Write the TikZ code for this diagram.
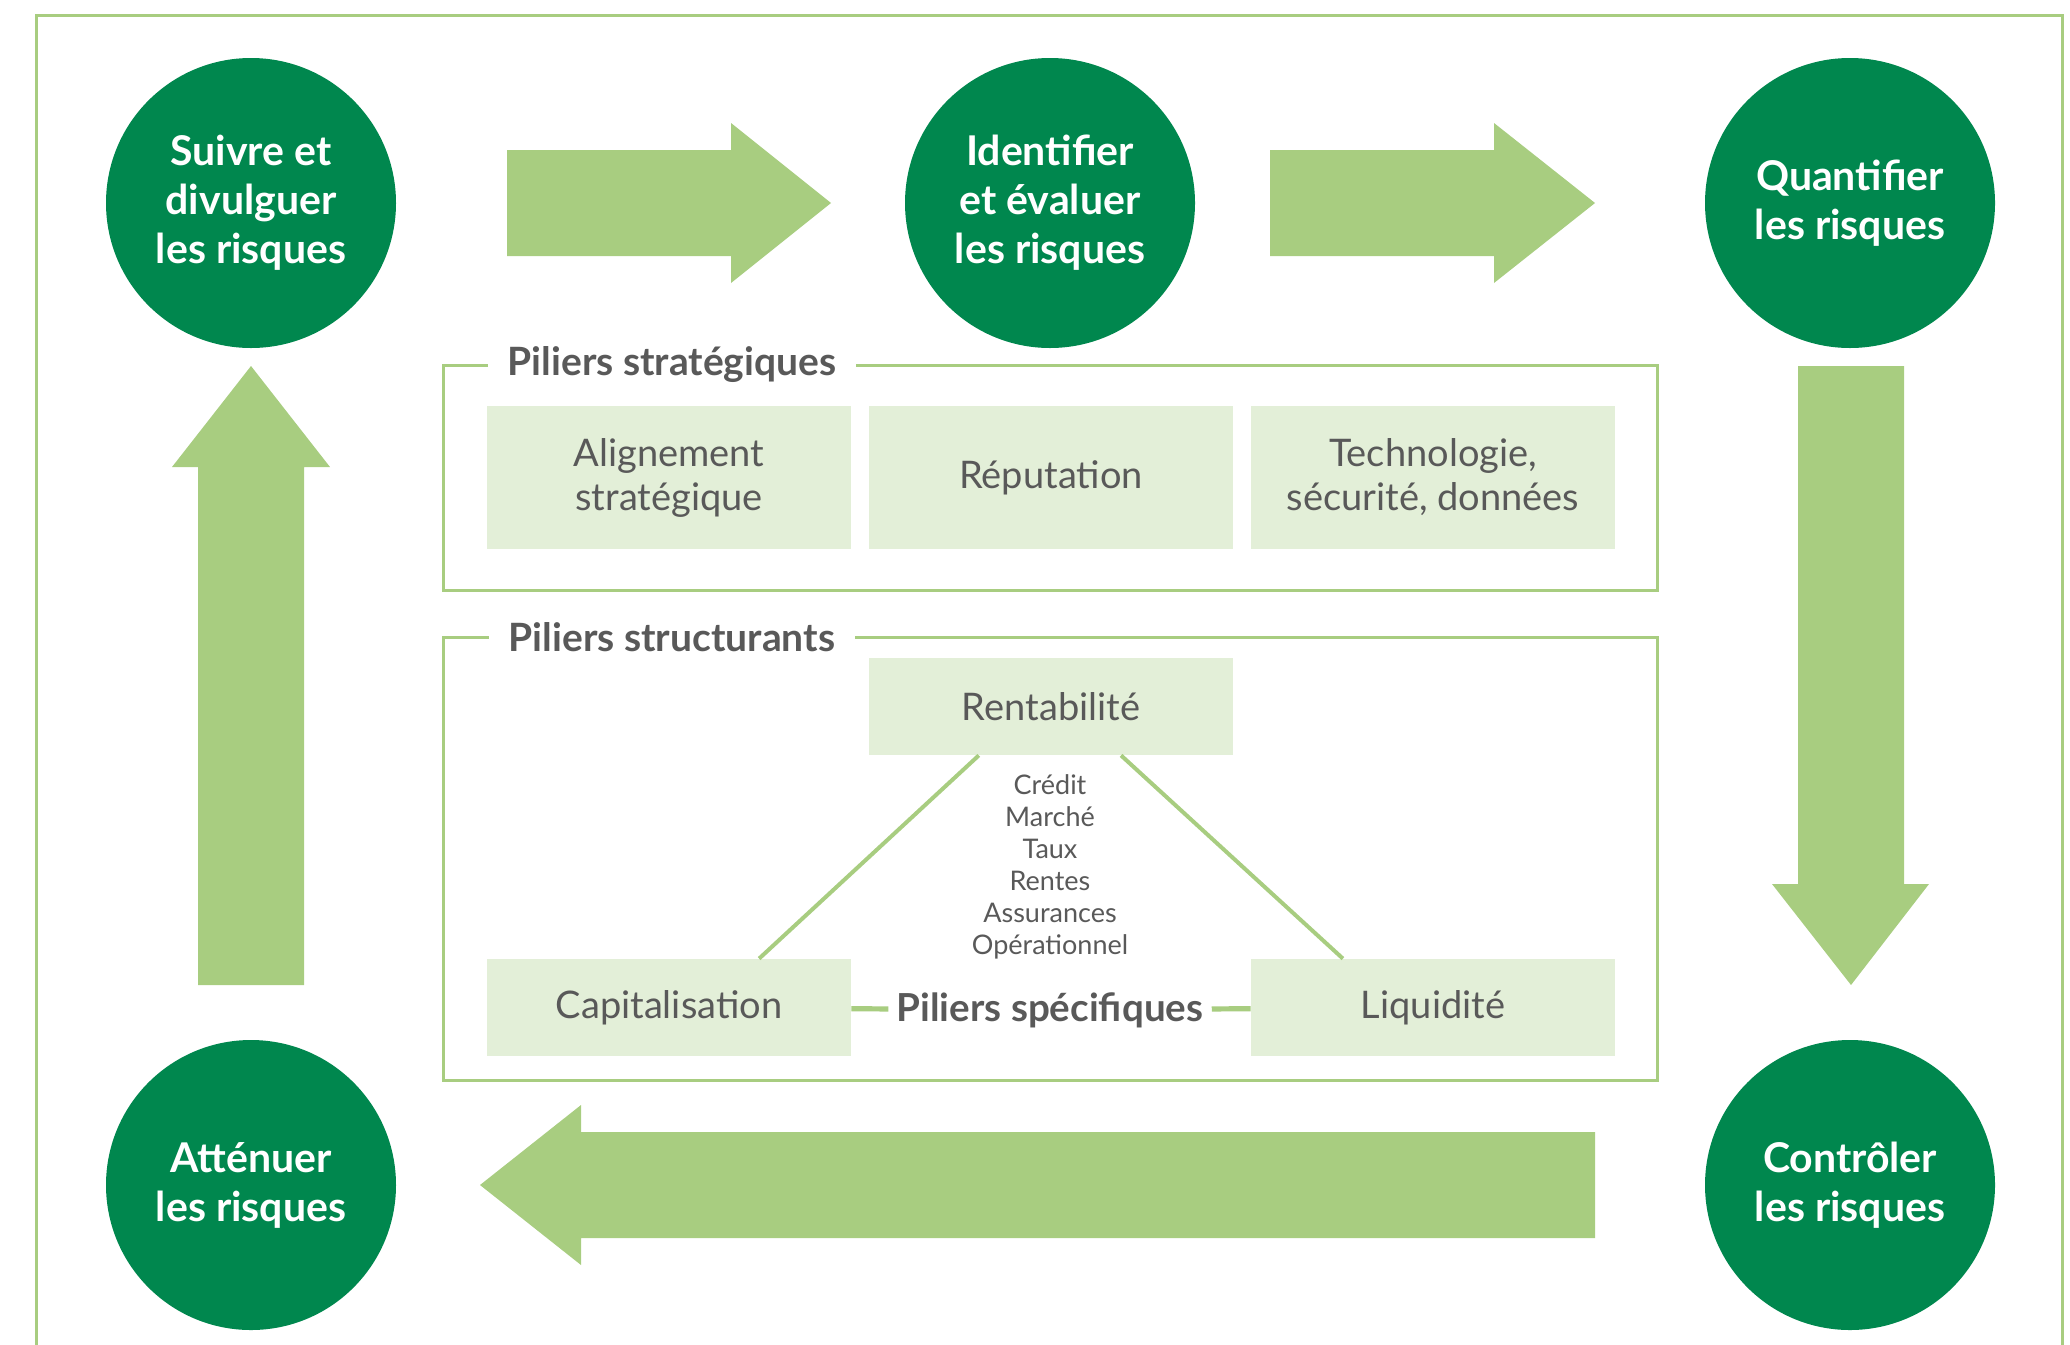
\documentclass[tikz,border=0pt]{standalone}
\usepackage{fontspec}
\setmainfont{Lato}
\usepackage{tikz}
\usetikzlibrary{positioning,calc}

\definecolor{darkgreen}{HTML}{00874E}
\definecolor{lightgreen}{HTML}{A8CD80}
\definecolor{palegreen}{HTML}{E3EFD8}
\definecolor{txtgray}{HTML}{595959}

\tikzset{
  stepcircle/.style={circle, fill=darkgreen, minimum size=145pt, inner sep=0pt,
    text=white, align=center, font=\bfseries\fontsize{20.5}{24.5}\selectfont},
  pillar/.style={fill=palegreen, minimum width=182pt, text=txtgray, align=center,
    font=\fontsize{19}{22}\selectfont},
  grouptitle/.style={fill=white, text=txtgray, inner xsep=10pt,
    font=\bfseries\fontsize{19.5}{22}\selectfont},
  frameline/.style={draw=lightgreen, line width=1.5pt},
  bigarrow/.style={fill=lightgreen},
  link/.style={draw=lightgreen, line width=2.6pt}
}

\begin{document}
\begin{tikzpicture}[x=0.5pt,y=-0.5pt]
    \useasboundingbox (0,0) rectangle (2070,1344);
    % outer frame, open at the bottom
    \draw[frameline] (36,1360) -- (36,15) -- (2062,15) -- (2062,1360);

    % risk cycle
    \node[stepcircle] (suivre) at (251,203) {Suivre et\\divulguer\\les risques};
    \node[stepcircle] (identifier) at (1050,203) {Identifier\\et évaluer\\les risques};
    \node[stepcircle] (quantifier) at (1850,203) {Quantifier\\les risques};
    \node[stepcircle] (controler) at (1850,1185) {Contrôler\\les risques};
    \node[stepcircle] (attenuer) at (251,1185) {Atténuer\\les risques};

    \fill[bigarrow] (507,150) -- (731,150) -- (731,123) -- (831,203) -- (731,283) -- (731,256) -- (507,256) -- cycle;
    \fill[bigarrow] (1270,150) -- (1494,150) -- (1494,123) -- (1595,203) -- (1494,283) -- (1494,256) -- (1270,256) -- cycle;
    \fill[bigarrow] (1798,366) -- (1904,366) -- (1904,884) -- (1929,884) -- (1851,985) -- (1772,884) -- (1798,884) -- cycle;
    \fill[bigarrow] (1595,1132) -- (581,1132) -- (581,1105) -- (480,1185) -- (581,1265) -- (581,1238) -- (1595,1238) -- cycle;
    \fill[bigarrow] (198,985) -- (198,467) -- (172,467) -- (251,366) -- (330,467) -- (304,467) -- (304,985) -- cycle;

    % strategic pillars
    \draw[frameline] (443,365) rectangle (1657,590);
    \node[grouptitle] (strat) at (672,365) {Piliers stratégiques};
    \node[pillar, minimum height=71.5pt] (alignement) at (669,477.5) {Alignement\\stratégique};
    \node[pillar, minimum height=71.5pt] (reputation) at (1051,477.5) {Réputation};
    \node[pillar, minimum height=71.5pt] (techno) at (1433,477.5) {Technologie,\\sécurité, données};

    % structural pillars
    \draw[frameline] (443,637) rectangle (1657,1080);
    \node[grouptitle] (struct) at (672,637) {Piliers structurants};
    \node[pillar, minimum height=48.5pt] (rent) at (1051,706.5) {Rentabilité};
    \node[pillar, minimum height=48.5pt] (cap) at (669,1007.5) {Capitalisation};
    \node[pillar, minimum height=48.5pt] (liq) at (1433,1007.5) {Liquidité};
    \node[text=txtgray, align=center, font=\fontsize{13.5}{16}\selectfont] (types) at (1050,867) {Crédit\\Marché\\Taux\\Rentes\\Assurances\\Opérationnel};
    \node[text=txtgray, inner xsep=4pt, font=\bfseries\fontsize{19.3}{22}\selectfont] (spec) at (1050,1010) {Piliers spécifiques};

    \draw[link, line width=2pt] ($(rent.south west)!0.302!(rent.south east)$) -- ($(cap.north west)!0.747!(cap.north east)$);
    \draw[link, line width=2pt] ($(rent.south west)!0.692!(rent.south east)$) -- ($(liq.north west)!0.253!(liq.north east)$);
    \draw[link] (cap) -- (spec);
    \draw[link] (spec) -- (liq);
\end{tikzpicture}
\end{document}
